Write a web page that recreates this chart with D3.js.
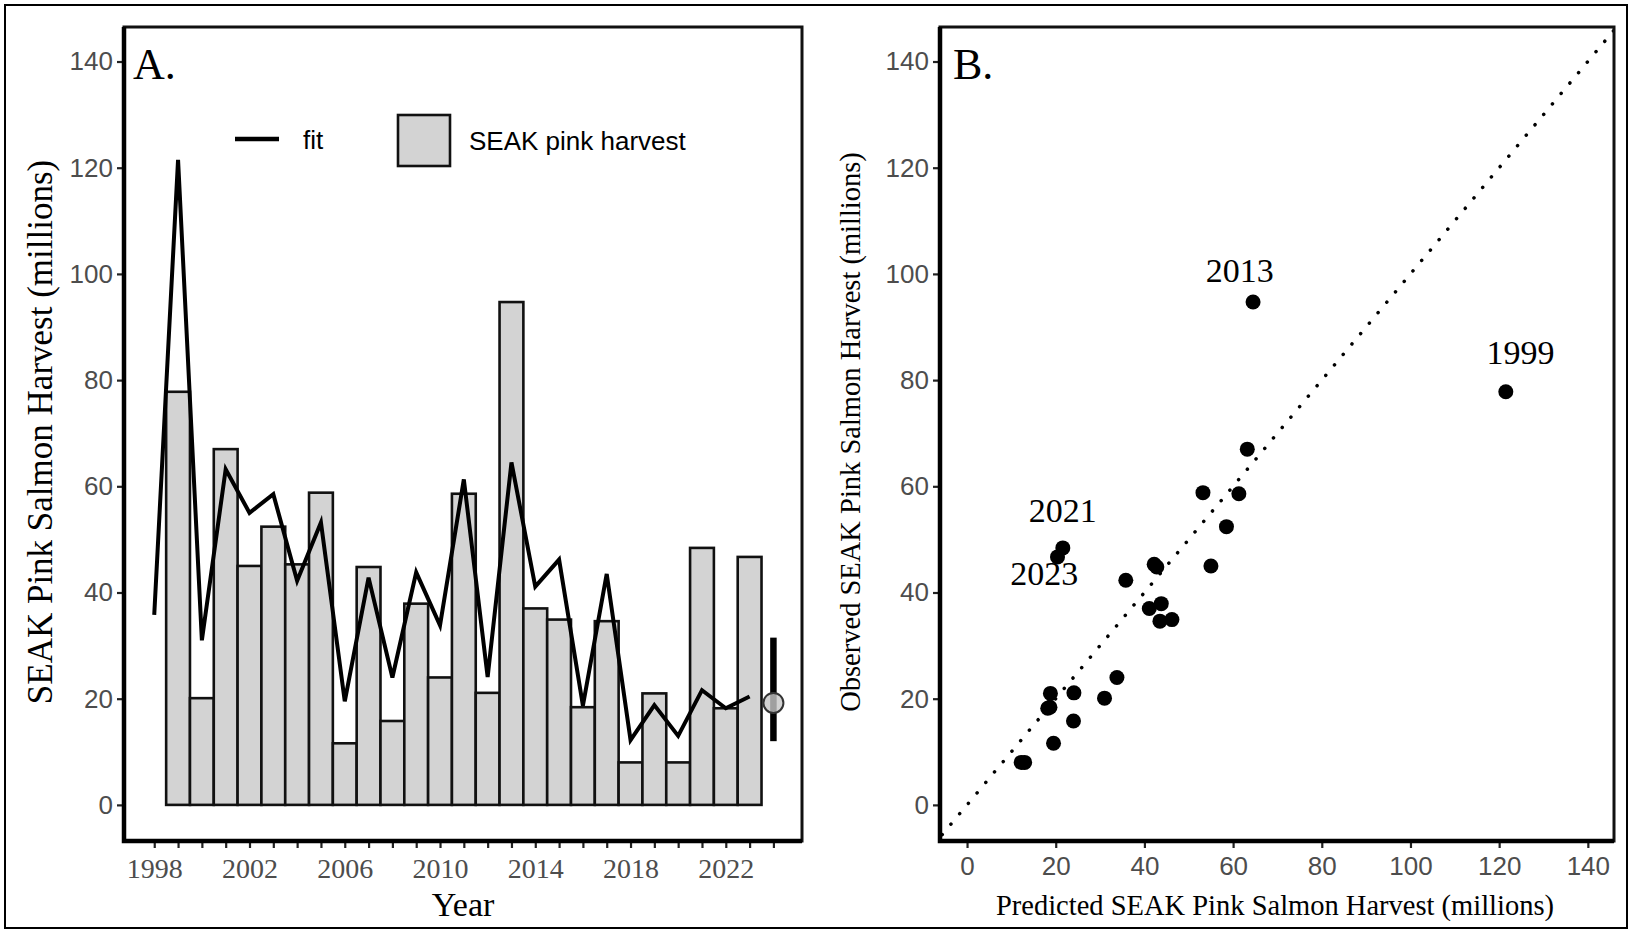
<!DOCTYPE html>
<html>
<head>
<meta charset="utf-8">
<script src="https://cdn.jsdelivr.net/npm/d3@7"></script>
<style>
  body { margin: 0; background: #fff; }
  svg { display: block; }
</style>
</head>
<body>
<div id="chart"></div>
<script>
// data
var years = [1998, 1999, 2000, 2001, 2002, 2003, 2004, 2005, 2006, 2007, 2008, 2009, 2010,
             2011, 2012, 2013, 2014, 2015, 2016, 2017, 2018, 2019, 2020, 2021, 2022, 2023];
var harvest = [42.3, 77.8, 20.1, 67.0, 45.0, 52.4, 45.3, 58.8, 11.6, 44.8, 15.8, 37.9, 24.0,
               58.6, 21.1, 94.7, 37.0, 34.9, 18.4, 34.6, 8.0, 21.0, 8.0, 48.4, 18.2, 46.7];
var fit = [35.8, 121.5, 31.0, 63.2, 55.0, 58.5, 42.2, 53.2, 19.5, 42.8, 24.0, 43.8, 33.8,
           61.3, 24.1, 64.5, 41.1, 46.2, 18.7, 43.5, 12.2, 18.8, 13.0, 21.6, 18.2, 20.4];
var forecastYear = 2024, forecastMid = 19.2, forecastLo = 12.0, forecastHi = 31.5;
var valueTicks = [0, 20, 40, 60, 80, 100, 120, 140];
var yearLabels = [1998, 2002, 2006, 2010, 2014, 2018, 2022];
var labeledYears = [2013, 1999, 2021, 2023];

var serif = "'Liberation Serif', 'Times New Roman', Times, serif";
var sans = "'Liberation Sans', Arial, Helvetica, sans-serif";
var tickGrey = "#4d4d4d";

var W = 1632, H = 933;
var svg = d3.select("#chart").append("svg")
  .attr("width", W).attr("height", H);

// outer frame round the whole figure
svg.append("rect")
  .attr("x", 5).attr("y", 5).attr("width", W - 10).attr("height", H - 10)
  .attr("fill", "none").attr("stroke", "#000").attr("stroke-width", 2);

var rows = years.map(function(y, i) { return {year: y, harvest: harvest[i], fit: fit[i]}; });

// ---------- panel A ----------
var A = {left: 124, right: 802, top: 27, bottom: 841};
var xA = d3.scaleLinear().domain([1996.73, 2025.2]).range([A.left, A.right]);
var yA = d3.scaleLinear().domain([-6.8, 146.5]).range([A.bottom, A.top]);

var gA = svg.append("g");

// the 1998 harvest only shows up in panel B
gA.selectAll("rect.bar")
  .data(rows.filter(function(d) { return d.year > 1998; }))
  .enter().append("rect")
    .attr("class", "bar")
    .attr("x", function(d) { return xA(d.year - 0.5); })
    .attr("width", function(d) { return xA(d.year + 0.5) - xA(d.year - 0.5); })
    .attr("y", function(d) { return yA(d.harvest); })
    .attr("height", function(d) { return yA(0) - yA(d.harvest); })
    .style("fill", "#d3d3d3")
    .style("stroke", "#111")
    .style("stroke-width", 2.6);

gA.append("path")
  .datum(rows)
  .attr("d", d3.line().x(function(d) { return xA(d.year); }).y(function(d) { return yA(d.fit); }))
  .style("fill", "none")
  .style("stroke", "#000")
  .style("stroke-width", 4)
  .style("stroke-linejoin", "miter");

// 2024 forecast with its range
gA.append("line")
  .attr("x1", xA(forecastYear)).attr("x2", xA(forecastYear))
  .attr("y1", yA(forecastLo)).attr("y2", yA(forecastHi))
  .style("stroke", "#000").style("stroke-width", 6.5);
gA.append("circle")
  .attr("cx", xA(forecastYear)).attr("cy", yA(forecastMid)).attr("r", 10)
  .style("fill", "#c8c8c8").style("fill-opacity", 0.8)
  .style("stroke", "#333").style("stroke-width", 2);

// axes A
var axisLeftA = gA.append("g")
  .attr("transform", "translate(" + A.left + ",0)")
  .call(d3.axisLeft(yA).tickValues(valueTicks).tickSize(7).tickPadding(4));
var axisBottomA = gA.append("g")
  .attr("transform", "translate(0," + A.bottom + ")")
  .call(d3.axisBottom(xA).tickValues(years.concat([forecastYear])).tickSize(7).tickPadding(10)
    .tickFormat(function(d) { return yearLabels.indexOf(d) >= 0 ? d : ""; }));

axisLeftA.selectAll("text").style("font-family", sans).style("font-size", "26px").style("fill", tickGrey);
axisBottomA.selectAll("text").style("font-family", serif).style("font-size", "28px").style("fill", tickGrey);

gA.append("rect")
  .attr("x", A.left).attr("y", A.top)
  .attr("width", A.right - A.left).attr("height", A.bottom - A.top)
  .style("fill", "none").style("stroke", "#111").style("stroke-width", 3);

gA.append("text")
  .attr("x", A.left + 9).attr("y", A.top + 52)
  .style("font-family", serif).style("font-size", "44px")
  .text("A.");

// legend
var leg = gA.append("g");
leg.append("line")
  .attr("x1", 235).attr("x2", 279).attr("y1", 139).attr("y2", 139)
  .style("stroke", "#000").style("stroke-width", 4.5);
leg.append("text")
  .attr("x", 303).attr("y", 149)
  .style("font-family", sans).style("font-size", "26px")
  .text("fit");
leg.append("rect")
  .attr("x", 398).attr("y", 115).attr("width", 52).attr("height", 51)
  .style("fill", "#d3d3d3").style("stroke", "#111").style("stroke-width", 2.6);
leg.append("text")
  .attr("x", 469).attr("y", 150)
  .style("font-family", sans).style("font-size", "26px")
  .text("SEAK pink harvest");

gA.append("text")
  .attr("transform", "translate(52," + ((A.top + A.bottom) / 2 - 2) + ") rotate(-90)")
  .attr("text-anchor", "middle")
  .style("font-family", serif).style("font-size", "35px")
  .text("SEAK Pink Salmon Harvest (millions)");
gA.append("text")
  .attr("x", (A.left + A.right) / 2).attr("y", 916)
  .attr("text-anchor", "middle")
  .style("font-family", serif).style("font-size", "34px")
  .text("Year");

// ---------- panel B ----------
var B = {left: 940, right: 1614, top: 27, bottom: 841};
var xB = d3.scaleLinear().domain([-6.1, 145.9]).range([B.left, B.right]);
var yB = d3.scaleLinear().domain([-6.8, 146.5]).range([B.bottom, B.top]);

var gB = svg.append("g");
svg.append("clipPath").attr("id", "clipB").append("rect")
  .attr("x", B.left).attr("y", B.top).attr("width", B.right - B.left).attr("height", B.bottom - B.top);

// 1:1 line
gB.append("line")
  .attr("clip-path", "url(#clipB)")
  .attr("x1", xB(-5.6)).attr("y1", yB(-5.6))
  .attr("x2", xB(146)).attr("y2", yB(146))
  .style("stroke", "#000").style("stroke-width", 3.5)
  .style("stroke-linecap", "round").style("stroke-dasharray", "0.1 13.5");

gB.selectAll("circle.pt")
  .data(rows)
  .enter().append("circle")
    .attr("class", "pt")
    .attr("cx", function(d) { return xB(d.fit); })
    .attr("cy", function(d) { return yB(d.harvest); })
    .attr("r", 7.5)
    .style("fill", "#000");

// year labels next to the outliers (offsets in data units)
var labelOffset = {2013: [-3, 3.7], 1999: [3.3, 5.2], 2021: [0, 4.8], 2023: [-3, -5.2]};
gB.selectAll("text.lab")
  .data(rows.filter(function(d) { return labeledYears.indexOf(d.year) >= 0; }))
  .enter().append("text")
    .attr("class", "lab")
    .attr("x", function(d) { return xB(d.fit + labelOffset[d.year][0]); })
    .attr("y", function(d) { return yB(d.harvest + labelOffset[d.year][1]); })
    .attr("text-anchor", "middle")
    .style("font-family", serif).style("font-size", "34px")
    .text(function(d) { return d.year; });

var axisLeftB = gB.append("g")
  .attr("transform", "translate(" + B.left + ",0)")
  .call(d3.axisLeft(yB).tickValues(valueTicks).tickSize(7).tickPadding(4));
var axisBottomB = gB.append("g")
  .attr("transform", "translate(0," + B.bottom + ")")
  .call(d3.axisBottom(xB).tickValues(valueTicks).tickSize(7).tickPadding(9));
axisLeftB.selectAll("text").style("font-family", sans).style("font-size", "26px").style("fill", tickGrey);
axisBottomB.selectAll("text").style("font-family", sans).style("font-size", "26px").style("fill", tickGrey);

gB.append("rect")
  .attr("x", B.left).attr("y", B.top)
  .attr("width", B.right - B.left).attr("height", B.bottom - B.top)
  .style("fill", "none").style("stroke", "#111").style("stroke-width", 3);

gB.append("text")
  .attr("x", B.left + 13).attr("y", B.top + 52)
  .style("font-family", serif).style("font-size", "44px")
  .text("B.");

gB.append("text")
  .attr("transform", "translate(860," + ((B.top + B.bottom) / 2 - 2) + ") rotate(-90)")
  .attr("text-anchor", "middle")
  .style("font-family", serif).style("font-size", "28.5px")
  .text("Observed SEAK Pink Salmon Harvest (millions)");
gB.append("text")
  .attr("x", 1275).attr("y", 915)
  .attr("text-anchor", "middle")
  .style("font-family", serif).style("font-size", "28.5px")
  .text("Predicted SEAK Pink Salmon Harvest (millions)");

// heavier axis lines on left and bottom, as in the original
[[A, gA], [B, gB]].forEach(function(p) {
  var b = p[0], g = p[1];
  g.selectAll(".domain").remove();
  g.selectAll(".tick line").style("stroke", "#222").style("stroke-width", 2.2);
  g.append("path")
    .attr("d", "M" + b.left + "," + b.top + "V" + b.bottom + "H" + b.right)
    .style("fill", "none").style("stroke", "#000").style("stroke-width", 4.5);
});
</script>
</body>
</html>
